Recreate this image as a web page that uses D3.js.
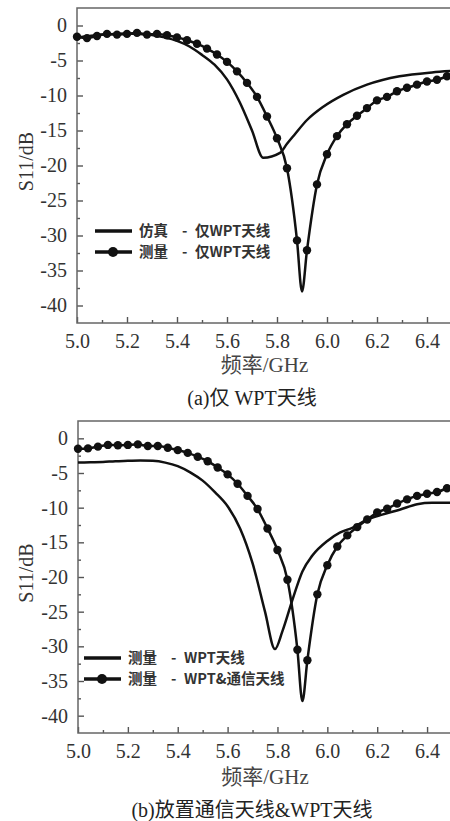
<!DOCTYPE html>
<html>
<head>
<meta charset="utf-8">
<script src="https://cdn.jsdelivr.net/npm/d3@7"></script>
<style>
  body { margin: 0; background: #fff; }
  svg { display: block; }
  .tick text { font-family: "Liberation Serif", "Times New Roman", serif; font-size: 20px; fill: #333; }
  .tick line { stroke: #555; stroke-width: 1.4; }
  .leg { font-family: "Noto Sans CJK SC", "Noto Sans", sans-serif; font-size: 14.5px; font-weight: bold; fill: #333; }
</style>
</head>
<body>
<svg id="chart" width="450" height="821"></svg>
<script>
// ticks
const xTicks = [5.0, 5.2, 5.4, 5.6, 5.8, 6.0, 6.2, 6.4];
const xMinor = [5.1, 5.3, 5.5, 5.7, 5.9, 6.1, 6.3];
const yTicks = [0, -5, -10, -15, -20, -25, -30, -35, -40];
const yMinor = [-2.5, -7.5, -12.5, -17.5, -22.5, -27.5, -32.5, -37.5];

// (a) simulated, WPT only
const simAFreq = [5.00, 5.05, 5.10, 5.15, 5.20, 5.25, 5.30, 5.35, 5.40, 5.45, 5.50, 5.55, 5.60, 5.65, 5.70, 5.745, 5.812, 5.84, 5.87, 5.92, 5.985, 6.065, 6.16, 6.29, 6.42, 6.50];
const simAS11  = [-1.7, -1.5, -1.3, -1.2, -1.15, -1.2, -1.35, -1.7, -2.2, -3.0, -4.2, -5.6, -7.7, -10.9, -15.0, -18.9, -18.2, -16.9, -15.6, -13.5, -11.6, -9.9, -8.45, -7.25, -6.7, -6.5];

// (a) measured, WPT only (5.90 is the dip, no marker)
const measAFreq = [5.00, 5.04, 5.08, 5.12, 5.16, 5.20, 5.24, 5.28, 5.32, 5.36, 5.40, 5.44, 5.48, 5.52, 5.56, 5.60, 5.64, 5.68, 5.72, 5.76, 5.80, 5.84, 5.88, 5.90, 5.92, 5.96, 6.00, 6.04, 6.08, 6.12, 6.16, 6.20, 6.24, 6.28, 6.32, 6.36, 6.40, 6.44, 6.48];
const measAS11  = [-1.6, -1.8, -1.5, -1.2, -1.3, -1.2, -1.05, -1.3, -1.2, -1.4, -1.7, -2.1, -2.6, -3.3, -4.15, -5.2, -6.55, -8.2, -10.2, -13.0, -16.1, -20.4, -30.7, -38.0, -32.1, -22.7, -18.4, -15.8, -14.1, -12.9, -11.8, -10.7, -10.2, -9.4, -8.9, -8.45, -8.0, -7.75, -7.25];

// (b) measured, WPT only
const wptBFreq = [5.00, 5.05, 5.10, 5.15, 5.20, 5.25, 5.30, 5.35, 5.40, 5.45, 5.50, 5.55, 5.60, 5.65, 5.70, 5.75, 5.79, 5.82, 5.86, 5.90, 5.94, 6.00, 6.05, 6.10, 6.16, 6.22, 6.29, 6.36, 6.42, 6.50];
const wptBS11  = [-3.5, -3.45, -3.4, -3.3, -3.25, -3.2, -3.25, -3.5, -4.0, -4.9, -6.1, -7.8, -9.8, -13.0, -18.0, -25.0, -30.4, -27.8, -23.3, -19.2, -16.9, -14.8, -13.6, -12.9, -11.7, -11.0, -10.3, -9.5, -9.3, -9.3];

// (b) measured, WPT & comm antenna
const bothBFreq = [5.00, 5.04, 5.08, 5.12, 5.16, 5.20, 5.24, 5.28, 5.32, 5.36, 5.40, 5.44, 5.48, 5.52, 5.56, 5.60, 5.64, 5.68, 5.72, 5.76, 5.80, 5.84, 5.88, 5.90, 5.92, 5.96, 6.00, 6.04, 6.08, 6.12, 6.16, 6.20, 6.24, 6.28, 6.32, 6.36, 6.40, 6.44, 6.48];
const bothBS11  = [-1.5, -1.45, -1.2, -0.95, -1.0, -0.95, -0.87, -1.1, -1.1, -1.35, -1.7, -2.1, -2.65, -3.3, -4.2, -5.2, -6.55, -8.3, -10.2, -13.0, -16.1, -20.4, -30.5, -37.9, -32.0, -22.5, -18.3, -15.6, -14.0, -12.8, -11.7, -10.7, -10.15, -9.4, -8.8, -8.3, -8.0, -7.75, -7.2];

const svg = d3.select("#chart");
svg.append("rect").attr("width", 450).attr("height", 821).attr("fill", "#fff");

function zip(fs, vs) {
  return fs.map(function(f, i) { return { f: f, v: vs[i] }; });
}

function drawPanel(p) {
  const x = d3.scaleLinear().domain([5.0, 6.5]).range([p.left, p.right]);
  const y = d3.scaleLinear().domain([-42.5, 2.5]).range([p.bottom, p.top]);
  const g = svg.append("g");

  // minor ticks
  g.append("g").attr("transform", "translate(" + p.left + ",0)")
    .call(d3.axisLeft(y).tickValues(yMinor).tickSize(-3).tickFormat(""))
    .call(s => s.select(".domain").remove());
  g.append("g").attr("transform", "translate(0," + p.bottom + ")")
    .call(d3.axisBottom(x).tickValues(xMinor).tickSize(-3).tickFormat(""))
    .call(s => s.select(".domain").remove());

  // major ticks
  g.append("g").attr("transform", "translate(" + p.left + ",0)")
    .call(d3.axisLeft(y).tickValues(yTicks).tickSize(-6).tickPadding(10).tickFormat(d => String(d)))
    .call(s => s.select(".domain").remove());
  g.append("g").attr("transform", "translate(0," + p.bottom + ")")
    .call(d3.axisBottom(x).tickValues(xTicks).tickSize(-6).tickPadding(11).tickFormat(d3.format(".1f")))
    .call(s => s.select(".domain").remove());

  // frame
  g.append("rect")
    .attr("x", p.left).attr("y", p.top)
    .attr("width", p.right - p.left).attr("height", p.bottom - p.top)
    .attr("fill", "none").attr("stroke", "#666").attr("stroke-width", 1.5);

  const line = d3.line()
    .x(d => x(d.f)).y(d => y(d.v))
    .curve(d3.curveMonotoneX);

  g.append("path").datum(zip(p.plainF, p.plainV))
    .attr("d", line).attr("fill", "none").attr("stroke", "#111").attr("stroke-width", 2.5);

  const dotted = zip(p.dotF, p.dotV);
  g.append("path").datum(dotted)
    .attr("d", line).attr("fill", "none").attr("stroke", "#111").attr("stroke-width", 2.5);
  g.selectAll("circle.m")
    .data(dotted.filter(d => Math.round(d.f * 100) % 4 === 0))
    .enter().append("circle")
    .attr("class", "m")
    .attr("cx", d => x(d.f)).attr("cy", d => y(d.v)).attr("r", 4.2)
    .attr("fill", "#111");

  // axis titles
  g.append("text")
    .attr("transform", "translate(" + p.ylabX + "," + ((p.top + p.bottom) / 2 - 4) + ") rotate(-90)")
    .attr("text-anchor", "middle").attr("dy", "0.35em")
    .attr("font-family", "'Liberation Serif', serif").attr("font-size", 20).attr("fill", "#333")
    .text("S11/dB");
  g.append("text")
    .attr("x", (p.left + p.right) / 2).attr("y", p.xlabY)
    .attr("text-anchor", "middle").attr("dy", "0.35em")
    .attr("font-family", "'Liberation Serif', 'Noto Sans CJK SC', serif").attr("font-size", 21).attr("fill", "#444")
    .text("频率/GHz");
  g.append("text")
    .attr("x", 252).attr("y", p.capY)
    .attr("text-anchor", "middle").attr("dy", "0.35em")
    .attr("font-family", "'Liberation Serif', 'Noto Sans CJK SC', serif").attr("font-size", 20).attr("fill", "#222")
    .text(p.caption);

  // legend
  const lg = g.append("g");
  p.legend.forEach(function(item, i) {
    const ly = p.legY + i * 21;
    lg.append("line")
      .attr("x1", p.legX).attr("x2", p.legX + 37).attr("y1", ly).attr("y2", ly)
      .attr("stroke", "#111").attr("stroke-width", 3.5);
    if (item.dot) {
      lg.append("circle").attr("cx", p.legX + 18).attr("cy", ly).attr("r", 5).attr("fill", "#111");
    }
    const tx = p.legX + 44;
    [[item.kind, 0], ["-", 43], [item.name, 56]].forEach(function(part) {
      lg.append("text")
        .attr("class", "leg")
        .attr("x", tx + part[1]).attr("y", ly).attr("dy", "0.35em")
        .text(part[0]);
    });
  });
}

drawPanel({
  left: 77, right: 452, top: 8, bottom: 323,
  plainF: simAFreq, plainV: simAS11,
  dotF: measAFreq, dotV: measAS11,
  ylabX: 26, xlabY: 365, capY: 398,
  caption: "(a)仅 WPT天线",
  legX: 95, legY: 231,
  legend: [{ kind: "仿真", name: "仅WPT天线", dot: false }, { kind: "测量", name: "仅WPT天线", dot: true }]
});

drawPanel({
  left: 78, right: 452, top: 421, bottom: 733,
  plainF: wptBFreq, plainV: wptBS11,
  dotF: bothBFreq, dotV: bothBS11,
  ylabX: 26, xlabY: 777, capY: 810,
  caption: "(b)放置通信天线&WPT天线",
  legX: 84, legY: 658,
  legend: [{ kind: "测量", name: "WPT天线", dot: false }, { kind: "测量", name: "WPT&通信天线", dot: true }]
});
</script>
</body>
</html>
